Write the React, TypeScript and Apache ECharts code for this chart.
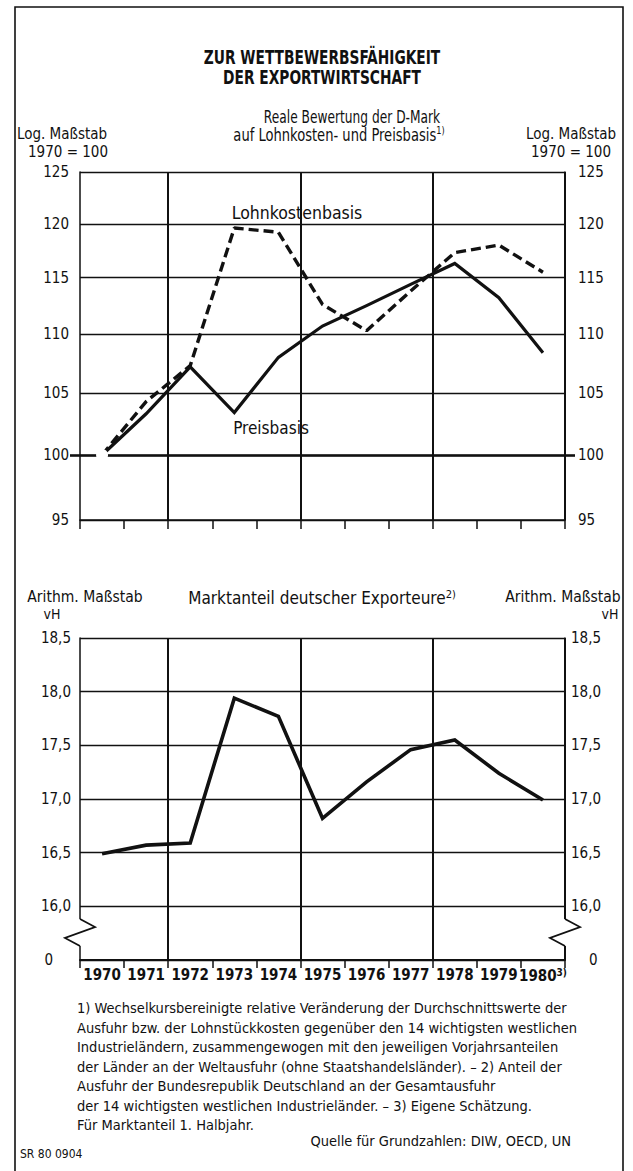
import React, { useEffect, useRef } from "react";
import * as echarts from "echarts";

// ---------- data ----------
const years = ["1970", "1971", "1972", "1973", "1974", "1975", "1976", "1977", "1978", "1979", "1980"];
const preisbasis = [100, 103.3, 107.2, 103.4, 108.0, 110.7, 112.5, 114.4, 116.3, 113.2, 108.4];
const lohnkostenbasis = [100, 104.3, 107.3, 119.6, 119.2, 112.6, 110.3, 113.8, 117.3, 118.0, 115.5];
const marktanteil = [16.49, 16.57, 16.59, 17.94, 17.77, 16.82, 17.16, 17.46, 17.55, 17.24, 16.99];
const logTicks = [95, 100, 105, 110, 115, 120, 125];
const baseTick = [100];
const gridYearIdx = [2, 5, 8];

const footnotes = [
  "1) Wechselkursbereinigte relative Veränderung der Durchschnittswerte der",
  "Ausfuhr bzw. der Lohnstückkosten gegenüber den 14 wichtigsten westlichen",
  "Industrieländern, zusammengewogen mit den jeweiligen Vorjahrsanteilen",
  "der Länder an der Weltausfuhr (ohne Staatshandelsländer). – 2) Anteil der",
  "Ausfuhr der Bundesrepublik Deutschland an der Gesamtausfuhr",
  "der 14 wichtigsten westlichen Industrieländer. – 3) Eigene Schätzung.",
  "Für Marktanteil 1. Halbjahr.",
];

// ---------- layout ----------
const FONT = "'Liberation Sans Narrow', 'DejaVu Sans Condensed', 'Liberation Sans', Arial, sans-serif";
const INK = "#111";
const G1 = { left: 80, top: 172, width: 485, height: 348 };
const G2 = { left: 80, top: 638, width: 485, height: 322 };
const LX = G1.left;
const RX = G1.left + G1.width;

const txt = (
  x: number,
  y: number,
  text: string,
  size: number,
  align = "center",
  weight = "normal",
  sx = 1,
  sy = 1,
  rich?: any
) => ({
  type: "text",
  x,
  y,
  scaleX: sx,
  scaleY: sy,
  silent: true,
  style: {
    text,
    fontSize: size,
    fontFamily: FONT,
    fontWeight: weight,
    fill: INK,
    align,
    verticalAlign: "middle",
    rich,
  },
});

const zig = (x: number) => [
  { type: "rect", silent: true, shape: { x: x - 3, y: 919, width: 6, height: 27 }, style: { fill: "#fff", stroke: null }, z: 100 },
  {
    type: "polyline",
    silent: true,
    z: 101,
    shape: { points: [[x, 919], [x + 15, 927], [x - 15, 938], [x, 946]] },
    style: { stroke: INK, lineWidth: 1.8, fill: null },
  },
];

const deFmt = (v: number) => (v === 15.5 ? "{z|0}" : v.toFixed(1).replace(".", ","));
const supRich = (size: number) => ({ s: { fontSize: size, fontFamily: FONT, fill: INK, padding: [0, 0, 8, 0] } });

function buildOption(): any {
  const axisLbl = { color: INK, fontFamily: FONT, fontSize: 15 };
  return {
    animation: false,
    backgroundColor: "#fff",
    grid: [
      { ...G1, containLabel: false },
      { ...G2, containLabel: false },
    ],
    xAxis: [
      {
        type: "category",
        gridIndex: 0,
        data: years,
        boundaryGap: true,
        axisLine: { show: true, lineStyle: { color: INK, width: 1.5 } },
        axisTick: { show: true, interval: 0, length: 9, lineStyle: { color: INK, width: 1.5 } },
        axisLabel: { show: false },
        splitLine: {
          show: true,
          interval: (i: number) => gridYearIdx.includes(i),
          lineStyle: { color: INK, width: 2 },
        },
      },
      {
        type: "category",
        gridIndex: 1,
        data: years,
        boundaryGap: true,
        axisLine: { show: true, lineStyle: { color: INK, width: 1.8 } },
        axisTick: { show: true, interval: 0, length: 8, lineStyle: { color: INK, width: 1.5 } },
        axisLabel: {
          interval: 0,
          margin: 7,
          color: INK,
          fontFamily: FONT,
          fontSize: 15,
          fontWeight: "bold",
          formatter: (v: string) => (v === "1980" ? "1980{s|3)}" : v),
          rich: { s: { fontSize: 10, fontFamily: FONT, fontWeight: "bold", color: INK, padding: [0, 0, 8, 0] } },
        },
        splitLine: {
          show: true,
          interval: (i: number) => gridYearIdx.includes(i),
          lineStyle: { color: INK, width: 2 },
        },
      },
    ],
    yAxis: [
      {
        type: "log",
        gridIndex: 0,
        position: "left",
        min: 95,
        max: 125,
        axisLine: { show: true, lineStyle: { color: INK, width: 1.5 } },
        axisTick: { show: false, customValues: logTicks },
        axisLabel: { ...axisLbl, customValues: logTicks, margin: 11 },
        splitLine: { show: true, lineStyle: { color: INK, width: 1.3 } },
      },
      {
        type: "log",
        gridIndex: 0,
        position: "right",
        min: 95,
        max: 125,
        axisLine: { show: true, lineStyle: { color: INK, width: 1.5 } },
        axisTick: { show: true, customValues: baseTick, length: 10, lineStyle: { color: INK, width: 2.6 } },
        axisLabel: { ...axisLbl, customValues: logTicks, margin: 13 },
        splitLine: { show: false },
      },
      {
        type: "log",
        gridIndex: 0,
        position: "left",
        min: 95,
        max: 125,
        axisLine: { show: false },
        axisTick: { show: true, customValues: baseTick, length: 10, lineStyle: { color: INK, width: 2.6 } },
        axisLabel: { show: false },
        splitLine: { show: false },
      },
      {
        type: "value",
        gridIndex: 1,
        position: "left",
        min: 15.5,
        max: 18.5,
        interval: 0.5,
        axisLine: { show: true, lineStyle: { color: INK, width: 1.5 } },
        axisTick: { show: false },
        axisLabel: { ...axisLbl, margin: 9, formatter: deFmt, rich: { z: { ...axisLbl, padding: [0, 18, 0, 0] } } },
        splitLine: { show: true, lineStyle: { color: INK, width: 1.3 } },
      },
      {
        type: "value",
        gridIndex: 1,
        position: "right",
        min: 15.5,
        max: 18.5,
        interval: 0.5,
        axisLine: { show: true, lineStyle: { color: INK, width: 1.5 } },
        axisTick: { show: false },
        axisLabel: { ...axisLbl, margin: 6, formatter: deFmt, rich: { z: { ...axisLbl, padding: [0, 0, 0, 18] } } },
        splitLine: { show: false },
      },
    ],
    series: [
      {
        name: "Preisbasis",
        type: "line",
        xAxisIndex: 0,
        yAxisIndex: 0,
        symbol: "none",
        showSymbol: true,
        data: preisbasis.map((v, i) =>
          i === 0
            ? { value: v, symbol: "emptyCircle", symbolSize: 10, itemStyle: { color: "#fff", borderColor: INK, borderWidth: 1.6 } }
            : { value: v, symbol: "none" }
        ),
        lineStyle: { color: INK, width: 3.2, join: "miter" },
        z: 5,
        markLine: {
          silent: true,
          symbol: ["none", "none"],
          label: { show: false },
          lineStyle: { color: INK, width: 2.6, type: "solid" },
          data: [{ yAxis: 100 }],
        },
      },
      {
        name: "Lohnkostenbasis",
        type: "line",
        xAxisIndex: 0,
        yAxisIndex: 0,
        symbol: "none",
        data: lohnkostenbasis,
        lineStyle: { color: INK, width: 3.4, type: [10, 5] },
        z: 4,
      },
      {
        name: "Marktanteil",
        type: "line",
        xAxisIndex: 1,
        yAxisIndex: 3,
        symbol: "none",
        data: marktanteil,
        lineStyle: { color: INK, width: 3.6, join: "miter" },
      },
    ],
    graphic: [
      { type: "rect", silent: true, shape: { x: 15, y: 7, width: 608, height: 1200 }, style: { fill: null, stroke: INK, lineWidth: 1.6 } },
      txt(322, 57, "ZUR WETTBEWERBSFÄHIGKEIT", 17, "center", "bold", 0.9, 1.15),
      txt(322, 77, "DER EXPORTWIRTSCHAFT", 17, "center", "bold", 0.9, 1.15),
      txt(352, 117, "Reale Bewertung der D-Mark", 16, "center", "normal", 0.85, 1.1),
      txt(339, 135, "auf Lohnkosten- und Preisbasis{s|1)}", 16, "center", "normal", 0.91, 1.1, supRich(10)),
      txt(62, 134, "Log. Maßstab", 15),
      txt(68, 152, "1970 = 100", 15),
      txt(571, 134, "Log. Maßstab", 15),
      txt(571, 152, "1970 = 100", 15),
      txt(297, 213, "Lohnkostenbasis", 17.5),
      txt(271, 428, "Preisbasis", 17),
      txt(322, 598, "Marktanteil deutscher Exporteure{s|2)}", 17, "center", "normal", 1, 1, supRich(11)),
      txt(85, 597, "Arithm. Maßstab", 15.5),
      txt(52, 614, "vH", 14),
      txt(563, 597, "Arithm. Maßstab", 15.5),
      txt(610, 614, "vH", 14),
      ...zig(LX),
      ...zig(RX),
      ...footnotes.map((f, i) => txt(77, 1008 + i * 19.5, f, 14.5, "left")),
      txt(571, 1141, "Quelle für Grundzahlen: DIW, OECD, UN", 14.5, "right"),
      txt(20, 1154, "SR 80 0904", 12, "left"),
    ],
  };
}

export default function App() {
  const ref = useRef<HTMLDivElement>(null);
  useEffect(() => {
    if (!ref.current) return;
    const chart = echarts.init(ref.current, null, { renderer: "svg" });
    chart.setOption(buildOption());
    return () => chart.dispose();
  }, []);
  return (
    <div
      ref={ref}
      style={{ position: "absolute", left: 0, top: 0, width: 633, height: 1171, background: "#fff" }}
    />
  );
}
